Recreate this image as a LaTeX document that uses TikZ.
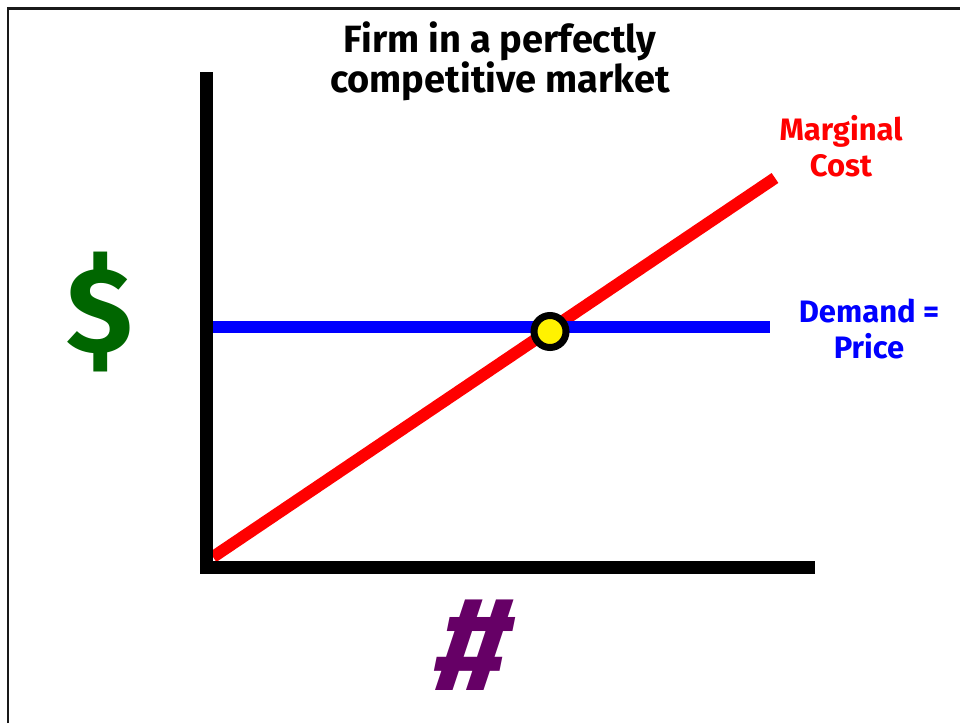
\documentclass[tikz,border=0pt]{standalone}
\usepackage{fontspec}
\setmainfont{Fira Sans}
\definecolor{dollargreen}{RGB}{0,102,0}
\definecolor{hashpurple}{RGB}{102,0,102}
\tikzset{
  axis line/.style = {
    line width=13pt, black
  },
  curve line/.style = {
    line width=12pt
  },
  label text/.style = {
    font=\bfseries\fontsize{31}{36}\selectfont, align=center
  }
}

\begin{document}
\begin{tikzpicture}[x=1pt, y=-1pt]
    \useasboundingbox (0,0) rectangle (960,723);
    % le cadre
    \draw[line width=2.2pt, black!90] (8.3,723) -- (8.3,8.5) -- (960,8.5);
    % les coordonnées des axes et des courbes
    \path
      (206.5,72) coordinate (Ytop)
      (206.5,567.5) coordinate (O)
      (815,567.5) coordinate (Xend)
      (213,557) coordinate (MC0)
      (775,178) coordinate (MC1)
      (213,327) coordinate (D0)
      (770,327) coordinate (D1)
      (550,331.5) coordinate (E)
    ;
    % les courbes
    \draw[curve line, red] (MC0) -- (MC1);
    \draw[curve line, blue] (D0) -- (D1);
    % les axes
    \draw[axis line] (Ytop) -- (O) -- (Xend);
    % l'équilibre
    \draw[line width=7pt, fill=yellow] (E) circle (16);
    % les textes
    \node[font=\bfseries\fontsize{38}{36}\selectfont, align=center] (title)
      at (500,61) {Firm in a perfectly\\competitive market};
    \node[label text, red] (mc) at (841,146) {Marginal\\Cost};
    \node[label text, blue] (dp) at (869,329) {Demand =\\Price};
    \node[font=\bfseries\fontsize{121}{121}\selectfont, dollargreen,
      inner sep=0] (dollar) at (100,312) {\$};
    \node[font=\bfseries\fontsize{134}{134}\selectfont, hashpurple,
      inner sep=0, xslant=0.2, transform shape] (hash) at (475,645) {\#};
\end{tikzpicture}
\end{document}
